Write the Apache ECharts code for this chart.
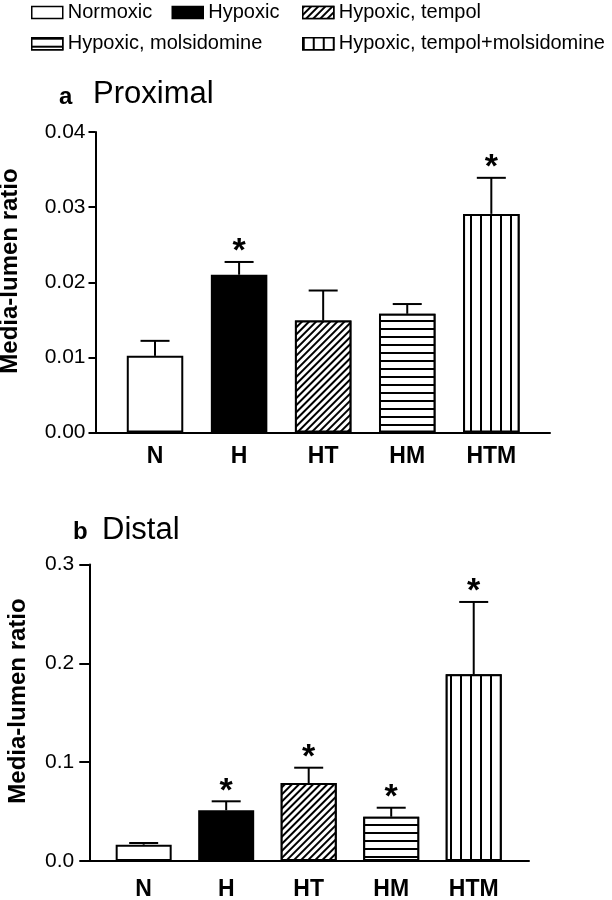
<!DOCTYPE html>
<html><head><meta charset="utf-8">
<script src="https://cdn.jsdelivr.net/npm/echarts@6/dist/echarts.min.js"></script>
<style>html,body{margin:0;padding:0;background:#fff}#c{width:612px;height:900px}</style>
</head><body><div id="c"></div>
<script>
// ---- data ----
const categories = ['N', 'H', 'HT', 'HM', 'HTM'];
const groupNames = ['Normoxic', 'Hypoxic', 'Hypoxic, tempol', 'Hypoxic, molsidomine', 'Hypoxic, tempol+molsidomine'];
const proximalMean = [0.0102, 0.0210, 0.0149, 0.0158, 0.0291];
const proximalSem  = [0.0020, 0.0017, 0.0040, 0.0013, 0.0048];
const proximalSig  = [false, true, false, false, true];
const distalMean = [0.0165, 0.0513, 0.0789, 0.0448, 0.1889];
const distalSem  = [0.0017, 0.0091, 0.0155, 0.0091, 0.0732];
const distalSig  = [false, true, true, true, true];
const proximalAxis = { min: 0, max: 0.04, interval: 0.01, decimals: 2 };
const distalAxis   = { min: 0, max: 0.3, interval: 0.1, decimals: 1 };
const titles = [['a', 'Proximal'], ['b', 'Distal']];
const yTitle = 'Media-lumen ratio';

// ---- styles ----
const FONT = '"Liberation Sans", Arial, sans-serif';
const base = { color: '#fff', borderColor: '#000', borderWidth: 2 };
const groupStyles = [
  Object.assign({}, base),
  Object.assign({}, base, { color: '#000' }),
  Object.assign({}, base, { decal: { symbol: 'rect', symbolSize: 1, dashArrayX: [1, 0], dashArrayY: [1.5, 2.5], rotation: -Math.PI / 4, color: '#000', backgroundColor: '#fff' } }),
  Object.assign({}, base, { decal: { symbol: 'rect', symbolSize: 1, dashArrayX: [1, 0], dashArrayY: [1.5, 5.5], rotation: 0, color: '#000', backgroundColor: '#fff' } }),
  Object.assign({}, base, { decal: { symbol: 'rect', symbolSize: 1, dashArrayX: [1.5, 7.5], dashArrayY: [1, 0], rotation: 0, color: '#000', backgroundColor: '#fff' } })
];

const panels = [
  { grid: { left: 95.5, top: 132, width: 454.5, height: 300.5 }, xr: [0.292, 5.698], barW: 56.5,
    axis: proximalAxis, mean: proximalMean, sem: proximalSem, sig: proximalSig,
    tickLen: 7, labMargin: 10, xLabMargin: 13 },
  { grid: { left: 89.3, top: 564.5, width: 439.7, height: 296.5 }, xr: [0.341, 5.670], barW: 56,
    axis: distalAxis, mean: distalMean, sem: distalSem, sig: distalSig,
    tickLen: 10, labMargin: 15, xLabMargin: 17 }
];

const grids = [], xAxes = [], yAxes = [], series = [];
panels.forEach((p, gi) => {
  grids.push(Object.assign({ containLabel: false, outerBoundsMode: 'none' }, p.grid));
  xAxes.push({
    type: 'value', gridIndex: gi, min: p.xr[0], max: p.xr[1],
    axisLine: { show: true, onZero: false, lineStyle: { color: '#000', width: 2 } },
    axisTick: { show: false }, splitLine: { show: false },
    axisLabel: {
      customValues: categories.map((c, i) => i + 1),
      formatter: v => categories[Math.round(v) - 1] || '',
      color: '#000', fontFamily: FONT, fontWeight: 'bold', fontSize: 23, margin: p.xLabMargin
    }
  });
  yAxes.push({
    type: 'value', gridIndex: gi, min: p.axis.min, max: p.axis.max, interval: p.axis.interval,
    axisLine: { show: true, onZero: false, lineStyle: { color: '#000', width: 2 } },
    axisTick: { show: true, length: p.tickLen, lineStyle: { color: '#000', width: 2 } },
    splitLine: { show: false },
    axisLabel: { formatter: v => v.toFixed(p.axis.decimals), color: '#000', fontFamily: FONT, fontSize: 21, margin: p.labMargin }
  });
  groupNames.forEach((name, i) => {
    series.push({
      type: 'bar', name, xAxisIndex: gi, yAxisIndex: gi,
      data: [[i + 1, p.mean[i]]], barWidth: p.barW, barGap: '-100%',
      itemStyle: groupStyles[i], silent: true, emphasis: { disabled: true }
    });
  });
  series.push({
    type: 'custom', xAxisIndex: gi, yAxisIndex: gi, silent: true, z: 5,
    data: p.mean.map((m, i) => [i + 1, m, p.sem[i], p.sig[i] ? 1 : 0]),
    encode: { x: 0, y: 1 },
    renderItem(params, api) {
      const x = api.value(0), m = api.value(1), e = api.value(2), s = api.value(3);
      const p0 = api.coord([x, m]);
      const p1 = api.coord([x, m + e]);
      const half = 14.5;
      const ch = [
        { type: 'line', shape: { x1: p0[0], y1: p0[1], x2: p1[0], y2: p1[1] }, style: { stroke: '#000', lineWidth: 2 } },
        { type: 'line', shape: { x1: p1[0] - half, y1: p1[1], x2: p1[0] + half, y2: p1[1] }, style: { stroke: '#000', lineWidth: 2 } }
      ];
      if (s) ch.push({ type: 'text', x: p1[0], y: p1[1] - 17 + 7,
        style: { text: '*', fill: '#000', font: 'bold 34px ' + FONT, align: 'center', verticalAlign: 'middle' } });
      return { type: 'group', children: ch };
    }
  });
});

const legendPos = [[31, 2.5], [171.5, 2.5], [302, 2.5], [31, 33.7], [302, 33.7]];
const legends = groupNames.map((n, i) => ({
  data: [n], left: legendPos[i][0], top: legendPos[i][1], padding: 0,
  itemWidth: 31, itemHeight: 12, icon: 'rect', selectedMode: false,
  itemStyle: { borderWidth: 1.5 },
  textStyle: { fontSize: 20, fontFamily: FONT, color: '#000' }
}));

const txt = (x, y, text, font, extra) => Object.assign({ type: 'text', x, y, silent: true,
  style: Object.assign({ text, font, fill: '#000', verticalAlign: 'middle' }, (extra && extra.style) || {}) },
  extra && extra.rotation !== undefined ? { rotation: extra.rotation } : {});

const graphic = [
  txt(59, 97, titles[0][0], 'bold 24px ' + FONT),
  txt(93, 94.5, titles[0][1], '31px ' + FONT),
  txt(73, 532.8, titles[1][0], 'bold 24px ' + FONT),
  txt(102, 530.5, titles[1][1], '31px ' + FONT),
  txt(10, 271, yTitle, 'bold 24px ' + FONT, { rotation: Math.PI / 2, style: { align: 'center' } }),
  txt(18, 701, yTitle, 'bold 24px ' + FONT, { rotation: Math.PI / 2, style: { align: 'center' } })
];

const chart = echarts.init(document.getElementById('c'), null, { renderer: 'canvas' });
chart.setOption({
  backgroundColor: '#fff', animation: false,
  grid: grids, xAxis: xAxes, yAxis: yAxes, legend: legends, series, graphic
});
</script></body></html>
